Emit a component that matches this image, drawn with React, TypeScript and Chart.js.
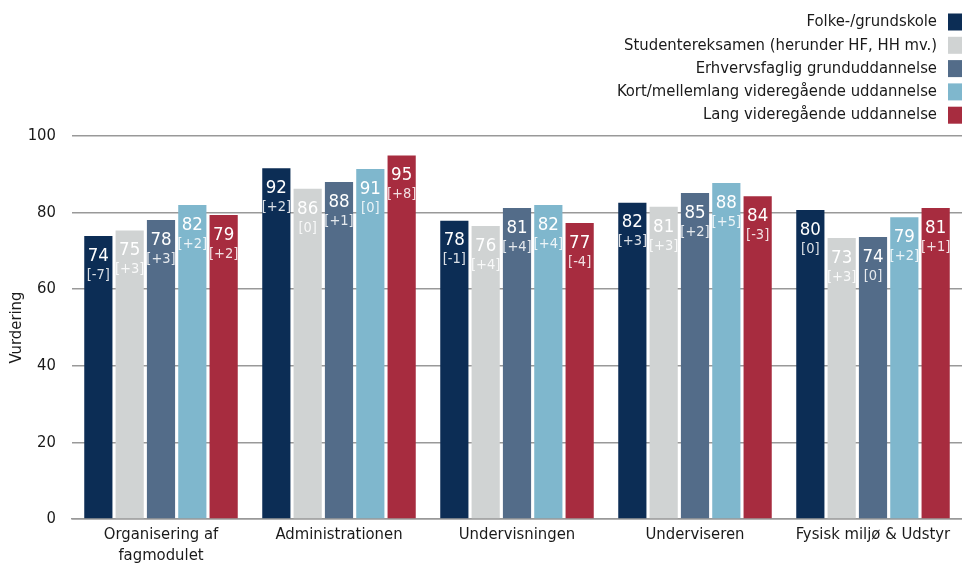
import React, { useEffect, useRef } from 'react';
import { Chart, registerables } from 'chart.js';

Chart.register(...registerables);

const FONT = 'Tahoma, "DejaVu Sans Condensed", "DejaVu Sans", sans-serif';

const categories: (string | string[])[] = [
  ['Organisering af', 'fagmodulet'],
  'Administrationen',
  'Undervisningen',
  'Underviseren',
  'Fysisk miljø & Udstyr',
];

const seriesNames = [
  'Folke-/grundskole',
  'Studentereksamen (herunder HF, HH mv.)',
  'Erhvervsfaglig grunduddannelse',
  'Kort/mellemlang videregående uddannelse',
  'Lang videregående uddannelse',
];

const seriesColors = ['#0c2d55', '#d0d3d3', '#536c89', '#7fb7cd', '#a72c3f'];

// Bar heights
const folkeValues = [73.9, 91.6, 77.9, 82.6, 80.7];
const studentValues = [75.3, 86.2, 76.5, 81.5, 73.4];
const erhvervValues = [78.1, 88.0, 81.2, 85.1, 73.6];
const kortValues = [82.0, 91.4, 82.0, 87.7, 78.8];
const langValues = [79.4, 94.9, 77.3, 84.3, 81.2];

// Printed value labels
const folkeLabels = ['74', '92', '78', '82', '80'];
const studentLabels = ['75', '86', '76', '81', '73'];
const erhvervLabels = ['78', '88', '81', '85', '74'];
const kortLabels = ['82', '91', '82', '88', '79'];
const langLabels = ['79', '95', '77', '84', '81'];

// Printed change labels
const folkeDeltas = ['[-7]', '[+2]', '[-1]', '[+3]', '[0]'];
const studentDeltas = ['[+3]', '[0]', '[+4]', '[+3]', '[+3]'];
const erhvervDeltas = ['[+3]', '[+1]', '[+4]', '[+2]', '[0]'];
const kortDeltas = ['[+2]', '[0]', '[+4]', '[+5]', '[+2]'];
const langDeltas = ['[+2]', '[+8]', '[-4]', '[-3]', '[+1]'];

const yTicks = [0, 20, 40, 60, 80, 100];

const allValues = [folkeValues, studentValues, erhvervValues, kortValues, langValues];
const allLabels = [folkeLabels, studentLabels, erhvervLabels, kortLabels, langLabels];
const allDeltas = [folkeDeltas, studentDeltas, erhvervDeltas, kortDeltas, langDeltas];

const barLabelsPlugin = {
  id: 'barLabels',
  afterDatasetsDraw(chart: any) {
    const ctx = chart.ctx;
    chart.data.datasets.forEach((_ds: any, i: number) => {
      const meta = chart.getDatasetMeta(i);
      meta.data.forEach((bar: any, j: number) => {
        const { x, y } = bar.getProps(['x', 'y'], true);
        ctx.save();
        ctx.textAlign = 'center';
        ctx.textBaseline = 'middle';
        ctx.fillStyle = '#ffffff';
        ctx.font = `18.5px ${FONT}`;
        ctx.fillText(allLabels[i][j], x, y + 20);
        ctx.fillStyle = 'rgba(255,255,255,0.85)';
        ctx.font = `14.5px ${FONT}`;
        ctx.fillText(allDeltas[i][j], x, y + 39);
        ctx.restore();
      });
    });
  },
};

const legendPlugin = {
  id: 'customLegend',
  afterDraw(chart: any) {
    const ctx = chart.ctx;
    const W = chart.width;
    ctx.save();
    ctx.font = `16.5px ${FONT}`;
    ctx.textAlign = 'right';
    ctx.textBaseline = 'middle';
    chart.data.datasets.forEach((ds: any, i: number) => {
      const cy = 22 + i * 23.3;
      ctx.fillStyle = '#1a1a1a';
      ctx.fillText(ds.label, W - 25, cy);
      ctx.fillStyle = ds.backgroundColor;
      ctx.fillRect(W - 14, cy - 8.5, 14, 17);
    });
    ctx.restore();
  },
};

export default function App() {
  const ref = useRef<HTMLCanvasElement>(null);
  useEffect(() => {
    document.body.style.margin = '0';
    if (!ref.current) return;
    const chart = new Chart(ref.current, {
      type: 'bar',
      data: {
        labels: categories,
        datasets: seriesNames.map((name, i) => ({
          label: name,
          data: allValues[i],
          backgroundColor: seriesColors[i],
          borderWidth: 0,
          categoryPercentage: 0.88,
          barPercentage: 0.9,
        })),
      },
      options: {
        responsive: false,
        animation: false,
        layout: { padding: { top: 136, left: 0, right: 0, bottom: 0 } },
        plugins: {
          legend: { display: false },
          tooltip: { enabled: false },
        },
        scales: {
          x: {
            grid: { display: false, drawTicks: false },
            border: { display: true, color: '#999999', width: 1.5 },
            ticks: {
              color: '#1a1a1a',
              font: { family: FONT, size: 16.5, lineHeight: 1.3 },
              padding: 5,
              maxRotation: 0,
              autoSkip: false,
            },
            afterFit: (scale: any) => {
              scale.height = 46;
            },
          },
          y: {
            min: 0,
            max: 100,
            afterBuildTicks: (scale: any) => {
              scale.ticks = yTicks.map((v) => ({ value: v }));
            },
            grid: { color: '#999999', lineWidth: 1.5, drawTicks: false },
            border: { display: false },
            ticks: {
              color: '#1a1a1a',
              font: { family: FONT, size: 16.5 },
              padding: 16,
            },
            title: {
              display: true,
              text: 'Vurdering',
              color: '#1a1a1a',
              font: { family: FONT, size: 16.5 },
              padding: { top: 7, bottom: 0 },
            },
            afterFit: (scale: any) => {
              scale.width = 72;
            },
          },
        },
      },
      plugins: [barLabelsPlugin, legendPlugin],
    });
    return () => chart.destroy();
  }, []);
  return (
    <div style={{ width: 962, height: 565 }}>
      <canvas ref={ref} width={962} height={565} />
    </div>
  );
}
